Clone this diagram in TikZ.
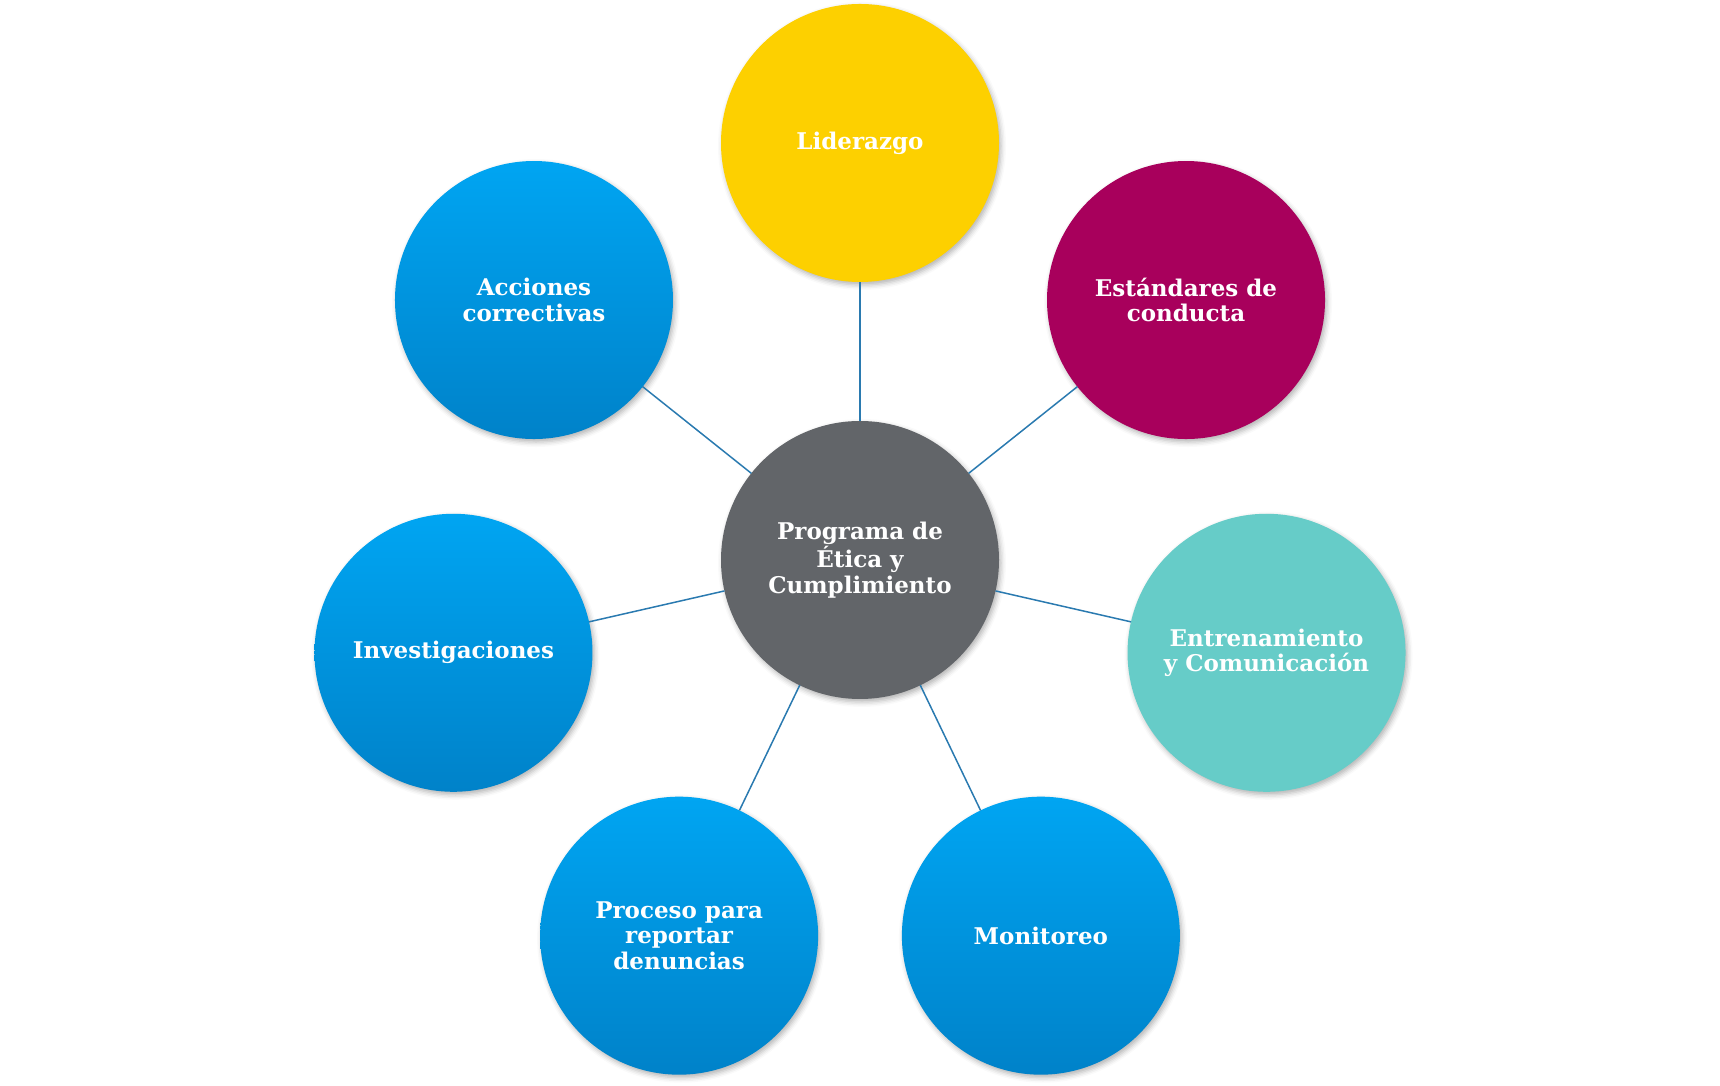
\documentclass[tikz,border=0pt]{standalone}
\usepackage{fontspec}
\setmainfont{DejaVu Serif}
\usepackage{tikz}
\usetikzlibrary{calc,shadows.blur}

\definecolor{hubgray}{HTML}{626569}
\definecolor{lideryellow}{HTML}{FDD000}
\definecolor{conductmag}{HTML}{A8005C}
\definecolor{trainteal}{HTML}{66CCC8}
\definecolor{bluetop}{HTML}{00A5F2}
\definecolor{bluebot}{HTML}{0082C9}
\definecolor{linkblue}{HTML}{2A7AB0}

\begin{document}
\begin{tikzpicture}[x=0.5pt,y=0.5pt,line join=round,
  bubble/.style={circle,minimum size=139pt,inner sep=0pt,outer sep=0pt,
    text=white,align=center,font=\bfseries\fontsize{11.5}{12.8}\selectfont,
    blur shadow={shadow xshift=1pt,shadow yshift=-1.5pt,
      shadow blur radius=2.5pt,shadow opacity=30}},
  bluebub/.style={bubble,top color=bluetop,bottom color=bluebot},
  link/.style={draw=linkblue,line width=0.75pt}]
  \useasboundingbox (0,0) rectangle (1720,1086);
  % hub and the seven parts around it
  \node[bubble,fill=hubgray] (hub) at (860,526) {Programa de\\Ética y\\Cumplimiento};
  \node[bubble,fill=lideryellow] (lider) at ($(hub)+(90:417)$) {Liderazgo};
  \node[bubble,fill=conductmag] (estandares) at ($(hub)+(38.57:417)$) {Estándares de\\conducta};
  \node[bubble,fill=trainteal] (entrena) at ($(hub)+(-12.86:417)$) {Entrenamiento\\y Comunicación};
  \node[bluebub] (monitoreo) at ($(hub)+(-64.29:417)$) {Monitoreo};
  \node[bluebub] (proceso) at ($(hub)+(-115.71:417)$) {Proceso para\\reportar\\denuncias};
  \node[bluebub] (investig) at ($(hub)+(-167.14:417)$) {Investigaciones};
  \node[bluebub] (acciones) at ($(hub)+(141.43:417)$) {Acciones\\correctivas};
  % connectors
  \foreach \part in {lider,estandares,entrena,monitoreo,proceso,investig,acciones}
    \draw[link] (hub) -- (\part);
\end{tikzpicture}
\end{document}
